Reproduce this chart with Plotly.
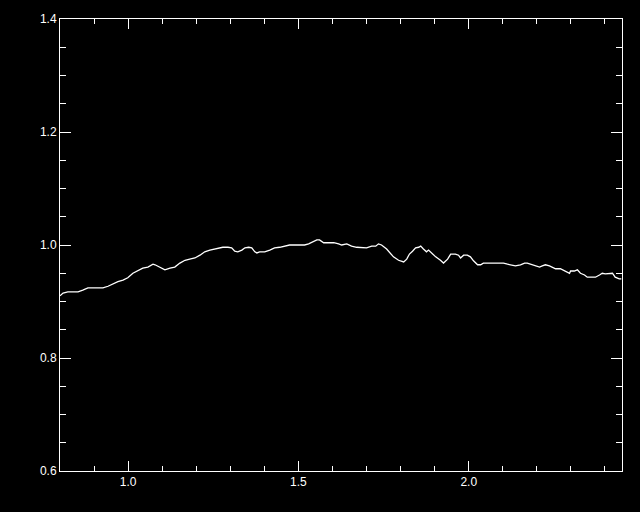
import plotly.graph_objects as go

wavelength = [0.800, 0.809, 0.823, 0.838, 0.853, 0.867, 0.882, 0.897, 0.911, 0.926,
              0.941, 0.955, 0.970, 0.985, 0.999, 1.014, 1.029, 1.043, 1.058, 1.073,
              1.079, 1.093, 1.108, 1.123, 1.137, 1.152, 1.167, 1.181, 1.196, 1.211,
              1.225, 1.240, 1.255, 1.269, 1.278, 1.293, 1.304, 1.313, 1.322, 1.334,
              1.343, 1.354, 1.363, 1.372, 1.378, 1.386, 1.401, 1.416, 1.430, 1.445,
              1.460, 1.474, 1.489, 1.504, 1.518, 1.530, 1.539, 1.554, 1.562, 1.574,
              1.589, 1.604, 1.618, 1.627, 1.642, 1.656, 1.671, 1.686, 1.700, 1.715,
              1.727, 1.735, 1.744, 1.759, 1.771, 1.779, 1.794, 1.809, 1.818, 1.826,
              1.835, 1.844, 1.853, 1.859, 1.867, 1.876, 1.882, 1.894, 1.903, 1.917,
              1.926, 1.938, 1.947, 1.961, 1.970, 1.976, 1.985, 1.996, 2.005, 2.014,
              2.026, 2.035, 2.043, 2.058, 2.073, 2.087, 2.102, 2.114, 2.123, 2.137,
              2.152, 2.164, 2.172, 2.181, 2.193, 2.208, 2.216, 2.225, 2.237, 2.246,
              2.255, 2.269, 2.284, 2.296, 2.299, 2.310, 2.319, 2.328, 2.340, 2.348,
              2.357, 2.372, 2.384, 2.392, 2.401, 2.413, 2.422, 2.430, 2.442, 2.448]

ratio = [0.910, 0.915, 0.917, 0.917, 0.917, 0.920, 0.924, 0.924, 0.924, 0.924,
         0.927, 0.931, 0.935, 0.938, 0.942, 0.950, 0.954, 0.959, 0.961, 0.966,
         0.965, 0.961, 0.956, 0.959, 0.961, 0.968, 0.973, 0.975, 0.977, 0.982,
         0.988, 0.991, 0.993, 0.995, 0.996, 0.996, 0.995, 0.989, 0.988, 0.991,
         0.995, 0.996, 0.995, 0.988, 0.986, 0.988, 0.988, 0.991, 0.995, 0.996,
         0.998, 1.000, 1.000, 1.000, 1.000, 1.002, 1.005, 1.009, 1.009, 1.004,
         1.004, 1.004, 1.002, 1.000, 1.002, 0.998, 0.996, 0.996, 0.995, 0.998,
         0.998, 1.002, 1.000, 0.993, 0.984, 0.979, 0.973, 0.970, 0.975, 0.984,
         0.989, 0.995, 0.996, 0.998, 0.993, 0.988, 0.991, 0.984, 0.979, 0.973,
         0.968, 0.975, 0.984, 0.984, 0.982, 0.977, 0.982, 0.982, 0.979, 0.972,
         0.965, 0.965, 0.968, 0.968, 0.968, 0.968, 0.968, 0.966, 0.965, 0.963,
         0.965, 0.968, 0.968, 0.966, 0.963, 0.961, 0.963, 0.965, 0.963, 0.961,
         0.958, 0.958, 0.954, 0.950, 0.954, 0.954, 0.956, 0.950, 0.947, 0.943,
         0.943, 0.943, 0.947, 0.950, 0.949, 0.950, 0.950, 0.943, 0.940, 0.940]

x_range = [0.8, 2.45]
y_range = [0.6, 1.4]

fig = go.Figure()
fig.add_trace(go.Scatter(x=wavelength, y=ratio, mode="lines",
                         line=dict(color="white", width=1.3), showlegend=False))

axis_common = dict(
    showline=True, linecolor="white", linewidth=1, mirror="allticks",
    ticks="inside", tickcolor="white", tickwidth=1,
    showgrid=False, zeroline=False,
    tickfont=dict(family="Liberation Sans, DejaVu Sans", size=12, color="white"),
)

fig.update_xaxes(range=x_range, tick0=0, dtick=0.5, tickformat=".1f", ticklen=10,
                 minor=dict(dtick=0.1, tick0=0, ticks="inside", ticklen=5,
                            tickcolor="white", showgrid=False),
                 **axis_common)
fig.update_yaxes(range=y_range, tick0=0.6, dtick=0.2, tickformat=".1f", ticklen=11,
                 minor=dict(dtick=0.05, tick0=0.6, ticks="inside", ticklen=6,
                            tickcolor="white", showgrid=False),
                 **axis_common)

fig.update_layout(
    width=640, height=512,
    margin=dict(l=60, r=18, t=19, b=41),
    paper_bgcolor="black", plot_bgcolor="black",
)

fig.write_html(
    "out.html",
    config={"displayModeBar": False},
    post_script="document.body.style.margin='0';"
                "document.body.style.backgroundColor='black';"
                "document.documentElement.style.overflow='hidden';",
)
